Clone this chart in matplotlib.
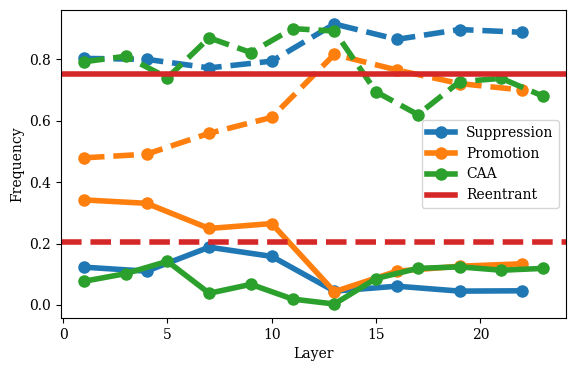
import matplotlib
matplotlib.use("Agg")
import matplotlib.pyplot as plt

plt.rcParams['font.family'] = ['DejaVu Serif']

layers_sp = [1, 4, 7, 10, 13, 16, 19, 22]
layers_caa = [1, 3, 5, 7, 9, 11, 13, 15, 17, 19, 21, 23]

supp_solid = [0.123, 0.110, 0.188, 0.158, 0.045, 0.061, 0.045, 0.046]
supp_dash = [0.803, 0.800, 0.772, 0.794, 0.915, 0.865, 0.897, 0.888]
prom_solid = [0.342, 0.331, 0.249, 0.265, 0.043, 0.110, 0.126, 0.134]
prom_dash = [0.479, 0.491, 0.559, 0.611, 0.816, 0.765, 0.721, 0.700]
caa_solid = [0.077, 0.102, 0.142, 0.038, 0.067, 0.019, 0.003, 0.086, 0.119, 0.124, 0.113, 0.119]
caa_dash = [0.792, 0.810, 0.740, 0.870, 0.822, 0.900, 0.892, 0.694, 0.620, 0.727, 0.738, 0.680]
reentrant_solid = 0.752
reentrant_dash = 0.205

fig = plt.figure(figsize=(5.74, 3.71), dpi=100)
ax = fig.add_axes([61/574, 1-318/371, (566-61)/574, (318-10)/371])

lw = 4
ms = 8
ax.plot(layers_sp, supp_solid, '-o', color='C0', lw=lw, ms=ms, label='Suppression')
ax.plot(layers_sp, supp_dash, '--o', color='C0', lw=lw, ms=ms, label='_nolegend_')
ax.plot(layers_sp, prom_solid, '-o', color='C1', lw=lw, ms=ms, label='Promotion')
ax.plot(layers_sp, prom_dash, '--o', color='C1', lw=lw, ms=ms, label='_nolegend_')
ax.plot(layers_caa, caa_solid, '-o', color='C2', lw=lw, ms=ms, label='CAA')
ax.plot(layers_caa, caa_dash, '--o', color='C2', lw=lw, ms=ms, label='_nolegend_')
ax.axhline(reentrant_solid, color='C3', lw=lw, ls='-', label='Reentrant')
ax.axhline(reentrant_dash, color='C3', lw=lw, ls='--', label='_nolegend_')

ax.set_xlabel('Layer')
ax.set_ylabel('Frequency')
ax.legend(loc='center right')

fig.savefig('out.png', dpi=100)
